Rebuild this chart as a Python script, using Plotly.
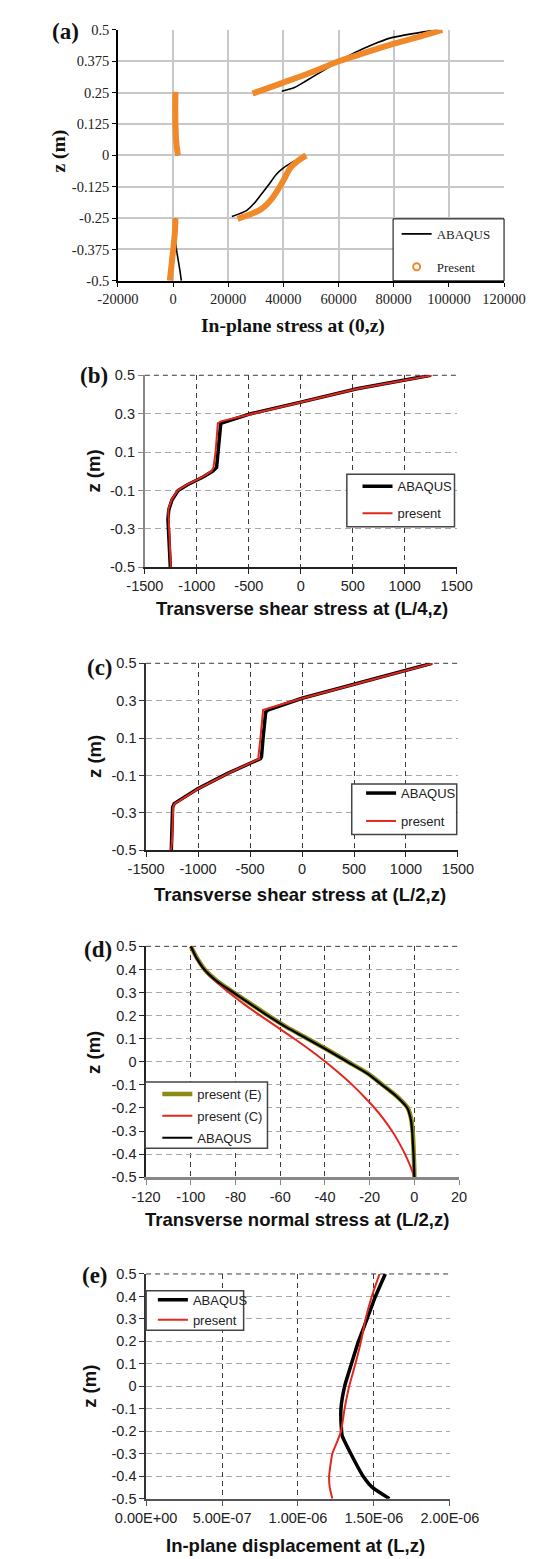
import plotly.graph_objects as go

W, H = 544, 1559

# ---------------- data ----------------
# (a) In-plane stress at (0,z) -- four layers each
a_abq_z1 = [-0.5, -0.46, -0.42, -0.38, -0.33, -0.3, -0.25]
a_abq_x1 = [3000, 2500, 1900, 1300, 840, 850, 900]
a_abq_z2 = [-0.244, -0.22, -0.19, -0.155, -0.115, -0.076, -0.05, -0.03, -0.02]
a_abq_x2 = [21300, 26600, 29500, 32000, 34800, 37400, 40000, 42800, 44400]
a_abq_z3 = [0.0, 0.05, 0.125, 0.2, 0.25]
a_abq_x3 = [1700, 1200, 850, 850, 900]
a_abq_z4 = [0.255, 0.27, 0.295, 0.335, 0.375, 0.41, 0.44, 0.468, 0.485, 0.5]
a_abq_x4 = [39400, 44000, 48000, 54000, 60000, 66000, 72000, 79000, 87000, 96000]

a_pre_z1 = [-0.5, -0.45, -0.4, -0.35, -0.3, -0.25]
a_pre_x1 = [-1200, -700, -200, 300, 700, 840]
a_pre_z2 = [-0.253, -0.235, -0.214, -0.17, -0.128, -0.09, -0.05, -0.02, 0.0]
a_pre_x2 = [23400, 28000, 32000, 36000, 38500, 40500, 42500, 45500, 48200]
a_pre_z3 = [0.0, 0.02, 0.06, 0.125, 0.2, 0.253]
a_pre_x3 = [1800, 1500, 1100, 850, 800, 840]
a_pre_z4 = [0.2465, 0.29, 0.33, 0.375, 0.41, 0.445, 0.475, 0.5]
a_pre_x4 = [28800, 40000, 50000, 60000, 70000, 80000, 90000, 97600]

a_xticks = [-20000, 0, 20000, 40000, 60000, 80000, 100000, 120000]
a_xticklabels = ["-20000", "0", "20000", "40000", "60000", "80000", "100000", "120000"]
a_yticks = [-0.5, -0.375, -0.25, -0.125, 0, 0.125, 0.25, 0.375, 0.5]
a_yticklabels = ["-0.5", "-0.375", "-0.25", "-0.125", "0", "0.125", "0.25", "0.375", "0.5"]

# (b) Transverse shear stress at (L/4,z)
b_abq_z = [0.5, 0.43, 0.36, 0.3, 0.25, 0.2, 0.1, 0.02, 0.0, -0.03, -0.07, -0.1, -0.15, -0.2, -0.25, -0.3, -0.4, -0.5]
b_abq_x = [1250, 540, 0, -480, -770, -780, -795, -810, -850, -940, -1090, -1180, -1240, -1270, -1278, -1275, -1265, -1255]
b_pre_z = [0.5, 0.43, 0.36, 0.3, 0.26, 0.25, 0.2, 0.1, 0.02, 0.0, -0.03, -0.07, -0.1, -0.15, -0.2, -0.25, -0.3, -0.4, -0.5]
b_pre_x = [1265, 545, 0, -480, -770, -798, -805, -820, -840, -860, -950, -1095, -1185, -1245, -1275, -1272, -1268, -1262, -1250]

# (c) Transverse shear stress at (L/2,z)
c_abq_z = [0.5, 0.39, 0.313, 0.25, 0.238, 0.1, 0.0, -0.01, -0.09, -0.17, -0.25, -0.27, -0.45, -0.5]
c_abq_x = [1250, 500, 0, -330, -350, -375, -390, -400, -720, -1000, -1230, -1245, -1252, -1258]
c_pre_z = [0.5, 0.39, 0.313, 0.258, 0.25, 0.1, 0.0, -0.01, -0.09, -0.17, -0.25, -0.27, -0.45, -0.5]
c_pre_x = [1260, 505, 5, -330, -375, -400, -420, -410, -715, -995, -1225, -1240, -1250, -1262]

bc_xticks = [-1500, -1000, -500, 0, 500, 1000, 1500]
bc_xticklabels = ["-1500", "-1000", "-500", "0", "500", "1000", "1500"]
bc_yticks = [-0.5, -0.3, -0.1, 0.1, 0.3, 0.5]
bc_yticklabels = ["-0.5", "-0.3", "-0.1", "0.1", "0.3", "0.5"]

# (d) Transverse normal stress at (L/2,z)
d_z = [0.5, 0.45, 0.4, 0.35, 0.3, 0.25, 0.2, 0.15, 0.1, 0.05, 0.0, -0.05, -0.1, -0.15, -0.2, -0.25, -0.3, -0.35, -0.4, -0.45, -0.5]
d_pre_e = [-100, -97.3, -93.8, -88.3, -80.8, -73.0, -65.3, -57.1, -47.7, -38.5, -29.7, -20.9, -14.2, -7.8, -3.0, -1.4, -0.8, -0.5, -0.3, -0.1, 0]
d_pre_c = [-100, -97.5, -94, -89, -83, -76.2, -68.9, -61.3, -53.7, -46.5, -39.8, -33.6, -27.8, -22.6, -17.8, -13.6, -10, -6.9, -4.2, -1.9, 0]
d_abq = [-100, -97.5, -94, -88.5, -81, -73.3, -65.6, -57.4, -48, -38.8, -30, -21.2, -14.5, -8, -3.2, -1.6, -1.0, -0.7, -0.4, -0.2, 0]
d_xticks = [-120, -100, -80, -60, -40, -20, 0, 20]
d_xticklabels = ["-120", "-100", "-80", "-60", "-40", "-20", "0", "20"]
de_yticks = [-0.5, -0.4, -0.3, -0.2, -0.1, 0, 0.1, 0.2, 0.3, 0.4, 0.5]
de_yticklabels = ["-0.5", "-0.4", "-0.3", "-0.2", "-0.1", "0", "0.1", "0.2", "0.3", "0.4", "0.5"]

# (e) In-plane displacement at (L,z)
e_abq_z = [0.5, 0.4, 0.3, 0.2, 0.1, 0.0, -0.1, -0.2, -0.22, -0.3, -0.4, -0.45, -0.5]
e_abq_x = [1.575e-6, 1.510e-6, 1.455e-6, 1.398e-6, 1.352e-6, 1.307e-6, 1.283e-6, 1.287e-6, 1.291e-6,
           1.348e-6, 1.429e-6, 1.490e-6, 1.602e-6]
e_pre_z = [0.5, 0.4, 0.3, 0.2, 0.1, 0.0, -0.1, -0.2, -0.25, -0.3, -0.4, -0.45, -0.5]
e_pre_x = [1.537e-6, 1.486e-6, 1.445e-6, 1.415e-6, 1.378e-6, 1.337e-6, 1.307e-6, 1.283e-6, 1.256e-6,
           1.226e-6, 1.205e-6, 1.209e-6, 1.226e-6]
e_xticks = [0, 5e-7, 1e-6, 1.5e-6, 2e-6]
e_xticklabels = ["0.00E+00", "5.00E-07", "1.00E-06", "1.50E-06", "2.00E-06"]

# ---------------- helpers ----------------
def join_layers(*pairs):
    xs, ys = [], []
    for i, (x, y) in enumerate(pairs):
        if i:
            xs.append(None)
            ys.append(None)
        xs += list(x)
        ys += list(y)
    return xs, ys

def fx(p):
    return p / W

def fy(p):
    return 1 - p / H

SERIF = "Liberation Serif, Times New Roman, serif"
SANS = "Liberation Sans, Arial, sans-serif"
RED = "#E3261E"
ORANGE = "#F0892A"
OLIVE = "#8A8A14"
SM = 0.7

fig = go.Figure()

# ---- (a)
ax, az = join_layers((a_abq_x1, a_abq_z1), (a_abq_x2, a_abq_z2), (a_abq_x3, a_abq_z3), (a_abq_x4, a_abq_z4))
px_, pz_ = join_layers((a_pre_x1, a_pre_z1), (a_pre_x2, a_pre_z2), (a_pre_x3, a_pre_z3), (a_pre_x4, a_pre_z4))
fig.add_trace(go.Scatter(x=ax, y=az, mode="lines", name="ABAQUS",
                         line=dict(color="black", width=1.6, shape="spline", smoothing=SM),
                         xaxis="x", yaxis="y", legend="legend", legendgroup="a1"))
fig.add_trace(go.Scatter(x=px_, y=pz_, mode="lines", name="Present", showlegend=False,
                         line=dict(color=ORANGE, width=6, shape="spline", smoothing=SM), xaxis="x", yaxis="y"))
fig.add_trace(go.Scatter(x=[None], y=[None], mode="markers", name="Present",
                         marker=dict(symbol="circle-open", size=7, color=ORANGE, line=dict(width=2, color=ORANGE)),
                         xaxis="x", yaxis="y", legend="legend", legendgroup="a2"))

# ---- (b)
fig.add_trace(go.Scatter(x=b_abq_x, y=b_abq_z, mode="lines", name="ABAQUS", line=dict(color="black", width=3.5),
                         xaxis="x2", yaxis="y2", legend="legend2", legendgroup="b1"))
fig.add_trace(go.Scatter(x=b_pre_x, y=b_pre_z, mode="lines", name="present", line=dict(color=RED, width=2),
                         xaxis="x2", yaxis="y2", legend="legend2", legendgroup="b2"))
# ---- (c)
fig.add_trace(go.Scatter(x=c_abq_x, y=c_abq_z, mode="lines", name="ABAQUS", line=dict(color="black", width=3.5),
                         xaxis="x3", yaxis="y3", legend="legend3", legendgroup="c1"))
fig.add_trace(go.Scatter(x=c_pre_x, y=c_pre_z, mode="lines", name="present", line=dict(color=RED, width=2),
                         xaxis="x3", yaxis="y3", legend="legend3", legendgroup="c2"))
# ---- (d)
fig.add_trace(go.Scatter(x=d_pre_e, y=d_z, mode="lines", name="present (E)",
                         line=dict(color=OLIVE, width=4.5, shape="spline", smoothing=SM),
                         xaxis="x4", yaxis="y4", legend="legend4", legendgroup="d1"))
fig.add_trace(go.Scatter(x=d_pre_c, y=d_z, mode="lines", name="present (C)",
                         line=dict(color=RED, width=2, shape="spline", smoothing=SM),
                         xaxis="x4", yaxis="y4", legend="legend4", legendgroup="d2"))
fig.add_trace(go.Scatter(x=d_abq, y=d_z, mode="lines", name="ABAQUS",
                         line=dict(color="black", width=2.2, shape="spline", smoothing=SM),
                         xaxis="x4", yaxis="y4", legend="legend4", legendgroup="d3"))
# ---- (e)
fig.add_trace(go.Scatter(x=e_abq_x, y=e_abq_z, mode="lines", name="ABAQUS",
                         line=dict(color="black", width=3.5, shape="spline", smoothing=0.5),
                         xaxis="x5", yaxis="y5", legend="legend5", legendgroup="e1"))
fig.add_trace(go.Scatter(x=e_pre_x, y=e_pre_z, mode="lines", name="present",
                         line=dict(color=RED, width=2, shape="spline", smoothing=0.5),
                         xaxis="x5", yaxis="y5", legend="legend5", legendgroup="e2"))

# ---------------- axes ----------------
panels = {
    # name: (left, right, top, bottom) in px
    "a": (88.7, 522.7, 14, 267.6),
    "b": (119, 469.5, 363, 557),
    "c": (120.4, 470.9, 654, 843),
    "d": (120.4, 472.2, 940, 1173.3),
    "e": (120.4, 461.8, 1271, 1498),
}

layout = dict(width=W, height=H, margin=dict(l=0, r=0, t=0, b=0),
              paper_bgcolor="white", plot_bgcolor="white", showlegend=True)

l, r, t, b = panels["a"]
layout["xaxis"] = dict(domain=[fx(l), fx(r)], anchor="y", range=[-20000, 120000],
                       tickmode="array", tickvals=a_xticks, ticktext=a_xticklabels,
                       tickfont=dict(family=SERIF, size=14.5, color="#222"),
                       showgrid=True, gridcolor="#c8c8c8", gridwidth=1.5, zeroline=False,
                       showline=True, linecolor="black", linewidth=1.5,
                       ticks="outside", ticklen=4, tickcolor="black")
layout["yaxis"] = dict(domain=[fy(b), fy(t)], anchor="x", range=[-0.5, 0.5],
                       tickmode="array", tickvals=a_yticks, ticktext=a_yticklabels,
                       tickfont=dict(family=SERIF, size=14.5, color="#222"),
                       showgrid=True, gridcolor="#c8c8c8", gridwidth=1.5, zeroline=False,
                       showline=True, linecolor="black", linewidth=1.5,
                       ticks="outside", ticklen=4, tickcolor="black")

axis_styles = {
    "b": dict(xline="#222", xlw=1.5, yline="#888", ylw=2),
    "c": dict(xline="#222", xlw=1.5, yline="#333", ylw=1.5),
    "d": dict(xline="#888", xlw=2.5, yline="#222", ylw=1.5),
    "e": dict(xline="#555", xlw=2, yline="#333", ylw=1.5),
}
xt = {"b": (bc_xticks, bc_xticklabels, [-1500, 1500]),
      "c": (bc_xticks, bc_xticklabels, [-1500, 1500]),
      "d": (d_xticks, d_xticklabels, [-120, 20]),
      "e": (e_xticks, e_xticklabels, [0, 2e-6])}
yt = {"b": (bc_yticks, bc_yticklabels), "c": (bc_yticks, bc_yticklabels),
      "d": (de_yticks, de_yticklabels), "e": (de_yticks, de_yticklabels)}

shapes = []
for i, key in enumerate(["b", "c", "d", "e"], start=2):
    l, r, t, b = panels[key]
    st = axis_styles[key]
    tv, tt, rng = xt[key]
    layout[f"xaxis{i}"] = dict(domain=[fx(l), fx(r)], anchor=f"y{i}", range=rng,
                               tickmode="array", tickvals=tv, ticktext=tt,
                               tickfont=dict(family=SANS, size=14.5, color="#222"),
                               showgrid=True, gridcolor="#3a3a3a", gridwidth=1, griddash="5px,4px",
                               zeroline=False, showline=True, linecolor=st["xline"], linewidth=st["xlw"],
                               ticks="outside", ticklen=5, tickcolor=st["xline"])
    yv, yl = yt[key]
    layout[f"yaxis{i}"] = dict(domain=[fy(b), fy(t)], anchor=f"x{i}", range=[-0.5, 0.5],
                               tickmode="array", tickvals=yv, ticktext=yl,
                               tickfont=dict(family=SANS, size=14.5, color="#222"),
                               showgrid=True, gridcolor="#a8a8a8", gridwidth=1, griddash="6px,4px",
                               zeroline=False, showline=True, linecolor=st["yline"], linewidth=st["ylw"],
                               ticks="outside", ticklen=5, tickcolor=st["yline"])
    # darker dashed top border
    shapes.append(dict(type="line", xref="paper", yref="paper", x0=fx(l), x1=fx(r), y0=fy(t), y1=fy(t),
                       line=dict(color="#3a3a3a", width=1, dash="5px,4px"), layer="below"))

# legend boxes (px): left, right, top, bottom
boxes = [
    ((398, 522.7, 205, 267.6), "black", 1),
    ((346, 467, 463, 516), "#444", 1.5),
    ((351.5, 469.5, 776, 827), "#444", 1.5),
    ((119.4, 256.8, 1077, 1144), "#444", 1.5),
    ((120.4, 230, 1288, 1328), "#444", 1.5),
]
for (l, r, t, b), col, w in boxes:
    shapes.append(dict(type="rect", xref="paper", yref="paper", x0=fx(l), x1=fx(r), y0=fy(b), y1=fy(t),
                       line=dict(color=col, width=w), fillcolor="white", layer="above"))
layout["shapes"] = shapes

leg_common = dict(bgcolor="rgba(0,0,0,0)", borderwidth=0, xanchor="left", yanchor="top",
                  traceorder="grouped", itemclick=False)
layout["legend"] = dict(x=fx(402), y=fy(205), font=dict(family=SERIF, size=13, color="#222"),
                        tracegroupgap=13, **leg_common)
layout["legend2"] = dict(x=fx(358), y=fy(460), font=dict(family=SANS, size=13, color="#222"),
                         tracegroupgap=7, **leg_common)
layout["legend3"] = dict(x=fx(362), y=fy(770), font=dict(family=SANS, size=13, color="#222"),
                         tracegroupgap=8, **leg_common)
layout["legend4"] = dict(x=fx(133), y=fy(1074), font=dict(family=SANS, size=13, color="#222"),
                         tracegroupgap=2, **leg_common)
layout["legend5"] = dict(x=fx(128), y=fy(1282), font=dict(family=SANS, size=13, color="#222"),
                         tracegroupgap=0, **leg_common)

# ---------------- annotations ----------------
ann = []
def add_text(text, xpx, ypx, font, angle=0):
    ann.append(dict(text=text, x=fx(xpx), y=fy(ypx), xref="paper", yref="paper",
                    showarrow=False, xanchor="center", yanchor="middle", textangle=angle, font=font))

lab_font = dict(family=SERIF, size=23, color="#111")
add_text("<b>(a)</b>", 29.5, 16, lab_font)
add_text("<b>(b)</b>", 61.6, 363, lab_font)
add_text("<b>(c)</b>", 68.5, 658, lab_font)
add_text("<b>(d)</b>", 66, 943, lab_font)
add_text("<b>(e)</b>", 63.3, 1272.7, lab_font)

tf_serif = dict(family=SERIF, size=19.5, color="#111")
tf_sans = dict(family=SANS, size=18.5, color="#111")
add_text("<b>In-plane stress at (0,z)</b>", 286, 313, tf_serif)
add_text("<b>z (m)</b>", 22.5, 137, tf_serif, -90)
add_text("<b>Transverse shear stress at (L/4,z)</b>", 295.5, 598.7, tf_sans)
add_text("<b>z (m)</b>", 61, 460, tf_sans, -90)
add_text("<b>Transverse shear stress at (L/2,z)</b>", 293.2, 887.5, tf_sans)
add_text("<b>z (m)</b>", 62.5, 748, tf_sans, -90)
add_text("<b>Transverse normal stress at (L/2,z)</b>", 289.7, 1215.8, tf_sans)
add_text("<b>z (m)</b>", 62, 1047.5, tf_sans, -90)
add_text("<b>In-plane displacement at (L,z)</b>", 288.3, 1545, tf_sans)
add_text("<b>z (m)</b>", 57.3, 1384, tf_sans, -90)
layout["annotations"] = ann

fig.update_layout(**layout)
fig.write_html("out.html")
